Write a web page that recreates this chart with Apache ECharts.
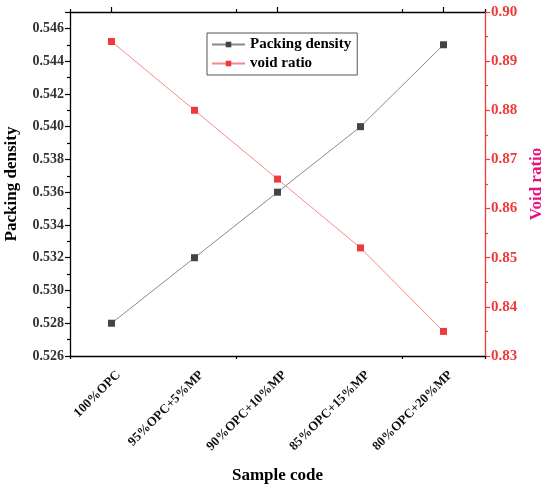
<!DOCTYPE html>
<html>
<head>
<meta charset="utf-8">
<script src="https://cdn.jsdelivr.net/npm/echarts@6/dist/echarts.min.js"></script>
<style>
  html, body { margin: 0; padding: 0; background: #fff; }
  #chart { width: 550px; height: 487px; }
</style>
</head>
<body>
<div id="chart"></div>
<script>
// 样品编号
const samples = ['100%OPC', '95%OPC+5%MP', '90%OPC+10%MP', '85%OPC+15%MP', '80%OPC+20%MP'];
// 堆积密度
const packingDensity = [0.528, 0.532, 0.536, 0.540, 0.545];
// 孔隙比
const voidRatio = [0.894, 0.880, 0.866, 0.852, 0.835];

const font = '"Liberation Serif", "Times New Roman", serif';

function initChart() {
    const chart = echarts.init(document.getElementById('chart'));

    // 共用的类别轴（只画刻度）
    function tickAxis(pos, centered, len) {
        return {
            type: 'category',
            position: pos,
            data: samples,
            boundaryGap: true,
            axisLine: { show: false },
            axisLabel: { show: false },
            axisTick: { show: true, alignWithLabel: centered, length: len, lineStyle: { color: '#000', width: 1.2 } },
            splitLine: { show: false }
        };
    }

    const option = {
        animation: false,
        textStyle: { fontFamily: font },
        grid: { left: 70, right: 65, top: 12, bottom: 131, outerBoundsMode: 'none', containLabel: false },
        legend: {
            left: 207,
            top: 33,
            orient: 'vertical',
            itemGap: 4,
            itemWidth: 33,
            itemHeight: 7,
            padding: [4, 6, 4, 4],
            borderColor: '#555',
            borderWidth: 1,
            textStyle: { fontFamily: font, fontWeight: 'bold', fontSize: 15, color: '#000' },
            data: ['Packing density', 'void ratio']
        },
        xAxis: [
            {
                type: 'category',
                position: 'bottom',
                data: samples,
                boundaryGap: true,
                name: 'Sample code',
                nameLocation: 'middle',
                nameGap: 111,
                nameTextStyle: { fontFamily: font, fontWeight: 'bold', fontSize: 17, color: '#000' },
                axisLine: { lineStyle: { color: '#000', width: 1.3 } },
                axisTick: { alignWithLabel: true, length: 5, lineStyle: { color: '#000', width: 1.2 } },
                axisLabel: {
                    rotate: 45,
                    interval: 0,
                    margin: 24,
                    padding: [0, -10, 0, 0],
                    fontFamily: font,
                    fontWeight: 'bold',
                    fontSize: 13,
                    color: '#111'
                }
            },
            tickAxis('bottom', false, 3),
            Object.assign(tickAxis('top', true, 5), { axisLine: { show: true, lineStyle: { color: '#000', width: 1.3 } } }),
            tickAxis('top', false, 3)
        ],
        yAxis: [
            {
                type: 'value',
                position: 'left',
                min: 0.526,
                max: 0.547,
                interval: 0.002,
                name: 'Packing density',
                nameLocation: 'middle',
                nameGap: 50,
                nameTextStyle: { fontFamily: font, fontWeight: 'bold', fontSize: 17, color: '#000' },
                axisLine: { show: true, lineStyle: { color: '#000', width: 1.3 } },
                axisTick: { show: true, length: 5, lineStyle: { color: '#000', width: 1.2 } },
                minorTick: { show: true, splitNumber: 2, length: 3, lineStyle: { color: '#000', width: 1.2 } },
                splitLine: { show: false },
                axisLabel: {
                    fontFamily: font,
                    fontWeight: 'bold',
                    fontSize: 14,
                    color: '#333',
                    margin: 6,
                    formatter: function (v) {
                        return v > 0.5465 ? '' : v.toFixed(3);
                    }
                }
            },
            {
                type: 'value',
                position: 'right',
                min: 0.83,
                max: 0.90,
                interval: 0.01,
                name: 'Void ratio',
                nameLocation: 'middle',
                nameGap: 40,
                nameRotate: 90,
                nameTextStyle: { fontFamily: font, fontWeight: 'bold', fontSize: 17, color: '#e8127c' },
                axisLine: { show: true, lineStyle: { color: '#f03a3a', width: 1.3 } },
                axisTick: { show: true, length: 5, lineStyle: { color: '#f03a3a', width: 1.2 } },
                minorTick: { show: true, splitNumber: 2, length: 3, lineStyle: { color: '#f03a3a', width: 1.2 } },
                splitLine: { show: false },
                axisLabel: {
                    fontFamily: font,
                    fontWeight: 'bold',
                    fontSize: 15,
                    color: '#f03a3a',
                    margin: 6,
                    formatter: function (v) { return v.toFixed(2); }
                }
            }
        ],
        series: [
            {
                name: 'Packing density',
                type: 'line',
                xAxisIndex: 0,
                yAxisIndex: 0,
                data: packingDensity,
                symbol: 'rect',
                symbolSize: 7,
                itemStyle: { color: '#444' },
                lineStyle: { color: '#8a8a8a', width: 1 }
            },
            {
                name: 'void ratio',
                type: 'line',
                xAxisIndex: 0,
                yAxisIndex: 1,
                data: voidRatio,
                symbol: 'rect',
                symbolSize: 7,
                itemStyle: { color: '#f03a3a' },
                lineStyle: { color: '#f58a8a', width: 1 }
            }
        ]
    };

    chart.setOption(option);
}

initChart();
</script>
</body>
</html>
